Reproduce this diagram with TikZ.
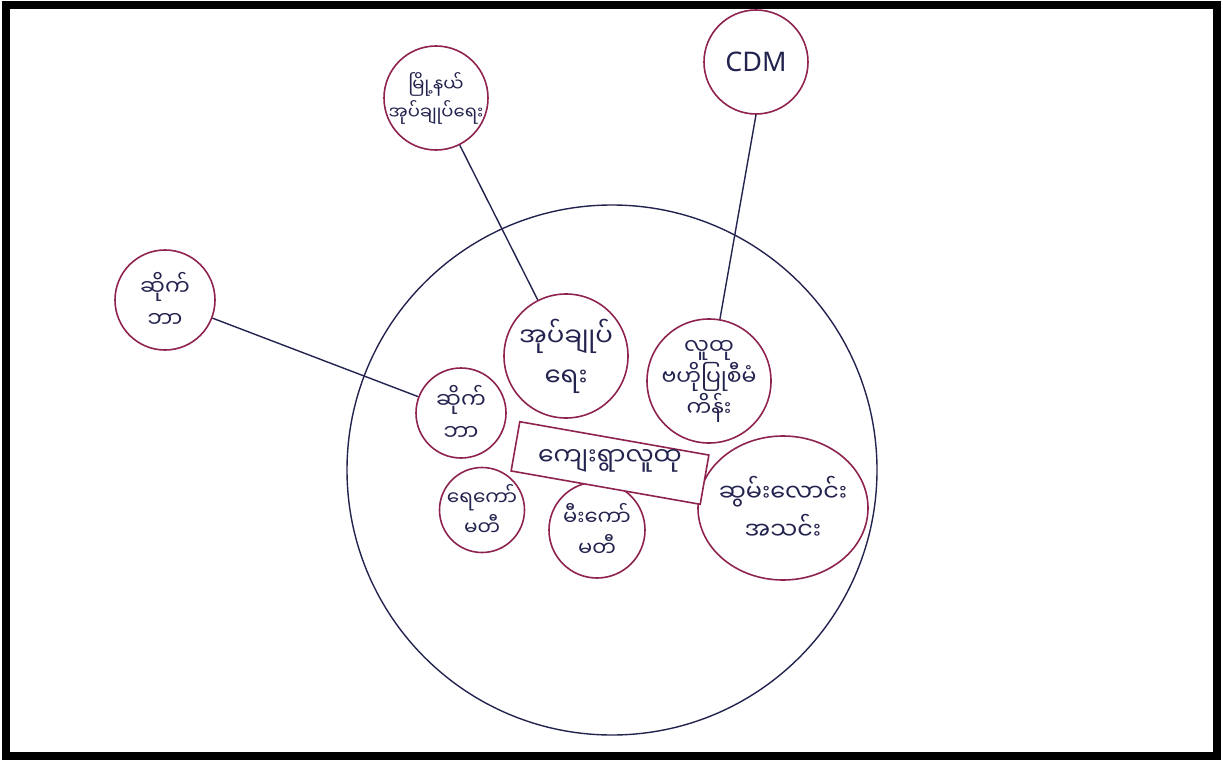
\documentclass[tikz,border=0pt]{standalone}
\usepackage{fontspec}
\setmainfont{Noto Sans}
\newfontfamily\mmfont[Script=Myanmar]{Noto Sans Myanmar UI}
\usetikzlibrary{shapes.geometric}
\definecolor{inkred}{HTML}{8E2350}
\definecolor{inkblue}{HTML}{23234F}

\begin{document}
\begin{tikzpicture}[x=1pt, y=-1pt,
    bubble/.style={circle, draw=inkred, line width=1.6pt, inner sep=-20pt, align=center,
        text=inkblue, font=\mmfont\fontsize{20}{28}\selectfont},
    link/.style={draw=inkblue, line width=1.4pt}]
\useasboundingbox (0,0) rectangle (1223,765);
\draw[line width=8pt] (6,5) rectangle (1217,756);

%% village
\node[circle, draw=inkblue, line width=1.4pt, minimum size=530pt] (village) at (612,470) {};

%% outside
\node[bubble, minimum size=104pt, font=\mmfont\fontsize{18}{28}\selectfont] (township) at (436,98) {မြို့နယ်\\အုပ်ချုပ်ရေး};
\node[bubble, minimum size=104pt, font=\fontsize{27}{30}\selectfont] (cdm) at (756,62) {CDM};
\node[bubble, minimum size=100pt, font=\mmfont\fontsize{22}{32}\selectfont] (cyberout) at (165,300) {ဆိုက်\\ဘာ};

%% inside
\node[bubble, minimum size=124pt, font=\mmfont\fontsize{26}{40}\selectfont] (admin) at (566,356) {အုပ်ချုပ်\\ရေး};
\node[bubble, minimum size=124pt, font=\mmfont\fontsize{22}{31}\selectfont] (project) at (709,381) {လူထု\\ဗဟိုပြုစီမံ\\ကိန်း};
\node[bubble, minimum size=90pt, font=\mmfont\fontsize{22}{32}\selectfont] (cyberin) at (461,413) {ဆိုက်\\ဘာ};
\node[bubble, ellipse, minimum width=170pt, minimum height=144pt, font=\mmfont\fontsize{24}{38}\selectfont] (alms) at (783,508) {ဆွမ်းလောင်း\\အသင်း};
\node[bubble, minimum size=85pt, font=\mmfont\fontsize{20}{30}\selectfont] (water) at (482,510) {ရေကော်\\မတီ};
\node[bubble, minimum size=96pt, font=\mmfont\fontsize{21}{31}\selectfont] (fire) at (597,530) {မီးကော်\\မတီ};

%% community
\node[draw=inkred, line width=1.6pt, fill=white, rotate=-10, minimum width=192pt, minimum height=50pt] (frame) at (610,463) {};
\node[text=inkblue, font=\mmfont\fontsize{25}{30}\selectfont] (community) at (610,461) {ကျေးရွာလူထု};

%% links
\draw[link] (township) -- (admin);
\draw[link] (cdm.south) -- (project);
\draw[link] (cyberout) -- (cyberin);
\end{tikzpicture}
\end{document}
